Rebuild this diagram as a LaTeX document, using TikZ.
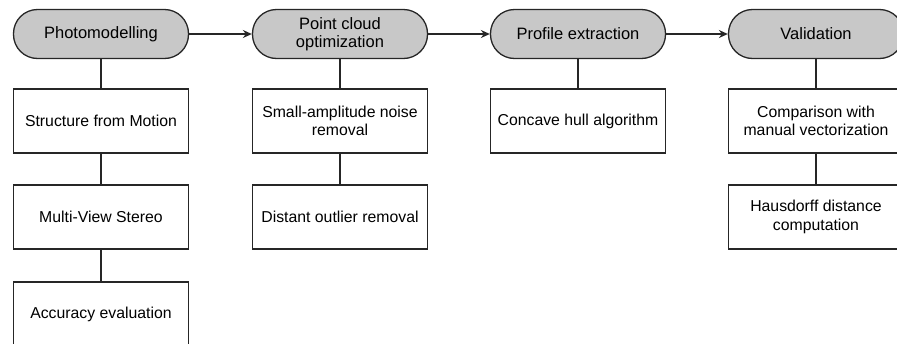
\documentclass[tikz,border=0pt]{standalone}
\usepackage{fontspec}
\setmainfont{Liberation Sans}
\usetikzlibrary{arrows.meta}
\definecolor{pillgray}{RGB}{200,200,200}
\begin{document}
\begin{tikzpicture}[x=1pt,y=-1pt,
  stage/.style={draw=black!85, line width=1.3pt, fill=pillgray,
    minimum width=175pt, minimum height=49pt, rounded corners=24pt,
    align=center, inner sep=0pt, font=\fontsize{16.5pt}{18.5pt}\selectfont},
  task/.style={draw=black!85, line width=1.3pt, fill=white,
    minimum width=175pt, minimum height=64pt,
    align=center, inner sep=0pt, font=\fontsize{15.8pt}{18.5pt}\selectfont},
  flow/.style={draw=black!85, line width=1.3pt, -{Stealth[length=9pt,width=8pt,inset=3pt]}},
  link/.style={draw=black!85, line width=1.3pt}]
\useasboundingbox (0,0) rectangle (897,343);

% main stages
\node[stage] (s1) at (101,34) {Photomodelling};
\node[stage] (s2) at (340,34) {Point cloud\\optimization};
\node[stage] (s3) at (578,34) {Profile extraction};
\node[stage] (s4) at (816,34) {Validation};

% sub-tasks
\node[task] (a1) at (101,121) {Structure from Motion};
\node[task] (a2) at (101,217) {Multi-View Stereo};
\node[task] (a3) at (101,314) {Accuracy evaluation};
\node[task] (b1) at (340,121) {Small-amplitude noise\\removal};
\node[task] (b2) at (340,217) {Distant outlier removal};
\node[task] (c1) at (578,121) {Concave hull algorithm};
\node[task] (d1) at (816,121) {Comparison with\\manual vectorization};
\node[task] (d2) at (816,217) {Hausdorff distance\\computation};

% workflow arrows
\draw[flow] (s1) -- (s2);
\draw[flow] (s2) -- (s3);
\draw[flow] (s3) -- (s4);

% stage to task links
\draw[link] (s1) -- (a1);
\draw[link] (a1) -- (a2);
\draw[link] (a2) -- (a3);
\draw[link] (s2) -- (b1);
\draw[link] (b1) -- (b2);
\draw[link] (s3) -- (c1);
\draw[link] (s4) -- (d1);
\draw[link] (d1) -- (d2);
\end{tikzpicture}
\end{document}
